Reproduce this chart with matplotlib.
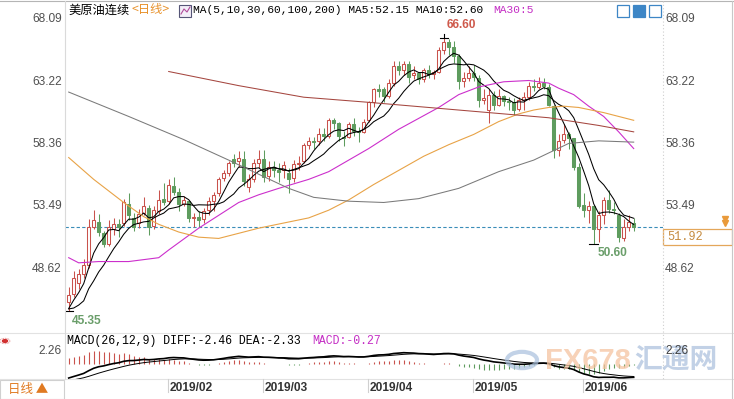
import numpy as np
import pandas as pd
import matplotlib
matplotlib.use("Agg")
import matplotlib.pyplot as plt
from matplotlib.patches import Rectangle, Circle
from matplotlib.lines import Line2D

plt.rcParams["font.family"] = ["Liberation Sans", "Noto Sans CJK SC", "DejaVu Sans"]

# ---- daily bars, 2019-01-03 .. 2019-06-17 (index 0..113) ----
opens = [46.05, 46.7, 47.5, 48.2, 48.9, 51.9, 52.3, 51.4, 50.6, 51.7,
         52.1, 52.2, 53.7, 52.6, 52.2, 53.0, 53.4, 52.0, 53.1, 54.1,
         53.9, 55.1, 54.6, 53.7, 53.9, 52.6, 52.7, 52.5, 53.2, 53.9,
         54.5, 55.7, 56.1, 57.2, 57.0, 57.2, 55.0, 55.6, 56.9, 57.2,
         55.9, 56.6, 56.3, 56.3, 56.1, 55.7, 56.8, 57.0, 58.3, 58.6,
         58.6, 59.1, 59.0, 60.2, 60.0, 58.9, 58.9, 59.9, 59.4, 59.3,
         60.2, 61.6, 62.6, 62.6, 62.1, 63.1, 64.4, 64.1, 64.6, 63.7,
         63.9, 63.4, 64.1, 63.8, 64.0, 65.7, 66.3, 65.9, 65.2, 63.3,
         63.5, 63.9, 63.5, 61.8, 61.0, 62.2, 61.4, 62.1, 61.7, 61.6,
         61.1, 61.8, 62.0, 62.9, 62.8, 63.1, 62.8, 61.3, 57.9, 58.7,
         59.1, 58.8, 56.6, 53.6, 53.2, 53.5, 51.7, 52.8, 54.0, 53.3,
         52.8, 51.0, 51.9, 52.2]
highs = [47.2, 48.5, 48.6, 49.4, 52.5, 53.2, 52.9, 51.6, 52.4, 52.6,
         52.5, 54.1, 54.5, 53.0, 53.3, 54.2, 53.6, 53.5, 54.8, 55.3,
         55.6, 55.8, 54.9, 54.3, 54.0, 53.0, 53.1, 53.4, 54.2, 54.6,
         55.8, 56.3, 57.0, 57.6, 57.8, 57.8, 56.0, 57.2, 57.9, 57.9,
         57.0, 57.0, 56.9, 57.0, 56.5, 57.1, 57.4, 58.4, 58.9, 58.9,
         59.6, 59.6, 60.4, 60.4, 60.1, 59.4, 60.1, 60.4, 59.7, 60.3,
         61.7, 62.7, 63.0, 62.8, 63.4, 64.8, 64.8, 64.8, 64.8, 64.4,
         64.0, 64.3, 64.5, 64.1, 65.9, 66.6, 66.5, 66.4, 65.4, 64.0,
         64.4, 64.5, 63.7, 62.6, 62.6, 62.5, 62.6, 62.2, 62.0, 61.9,
         62.0, 62.4, 63.2, 63.4, 63.6, 63.5, 63.0, 61.4, 59.1, 59.9,
         59.3, 58.8, 56.9, 54.5, 53.9, 53.6, 53.1, 54.2, 54.8, 53.8,
         53.0, 52.5, 52.8, 52.6]
lows = [45.35, 46.4, 47.1, 47.9, 48.7, 51.7, 51.2, 50.3, 50.4, 51.3,
        51.1, 52.0, 52.4, 51.6, 51.8, 52.8, 51.3, 51.7, 52.9, 53.6,
        53.7, 54.4, 53.1, 53.5, 52.3, 51.9, 51.9, 52.2, 52.8, 53.1,
        54.3, 55.5, 55.9, 56.6, 56.6, 55.1, 54.6, 55.4, 56.5, 55.4,
        55.5, 55.8, 55.4, 55.7, 54.5, 55.4, 56.3, 56.9, 58.0, 58.0,
        58.3, 58.6, 58.8, 59.5, 58.6, 58.2, 58.8, 59.0, 58.5, 59.2,
        60.1, 61.2, 62.0, 61.6, 61.9, 62.9, 63.7, 63.7, 63.1, 63.4,
        63.0, 63.2, 63.5, 63.4, 63.9, 65.4, 65.3, 64.7, 62.6, 62.8,
        63.3, 63.3, 61.2, 61.5, 60.0, 61.0, 61.3, 61.3, 61.0, 60.6,
        60.9, 61.0, 61.8, 62.5, 62.6, 62.6, 61.3, 57.3, 57.4, 58.4,
        58.0, 56.3, 53.4, 52.7, 52.2, 50.6, 50.7, 52.1, 53.0, 52.9,
        50.7, 50.8, 51.6, 51.6]
closes = [46.6, 47.9, 48.2, 48.9, 51.9, 52.4, 51.5, 50.6, 51.9, 52.1,
          51.9, 53.8, 52.8, 51.9, 52.9, 53.5, 51.9, 53.2, 54.0, 53.8,
          55.2, 54.6, 53.7, 54.0, 52.6, 52.7, 52.4, 53.1, 53.9, 54.4,
          55.6, 56.1, 56.9, 56.9, 57.3, 55.5, 55.6, 56.9, 57.2, 55.8,
          56.6, 56.3, 56.2, 56.7, 55.6, 56.8, 56.9, 58.3, 58.6, 58.5,
          59.1, 59.0, 60.2, 60.0, 59.0, 58.8, 59.9, 59.4, 59.3, 60.1,
          61.6, 62.6, 62.5, 62.1, 63.1, 64.4, 64.1, 64.6, 63.6, 63.9,
          63.4, 64.1, 63.8, 64.0, 65.7, 66.3, 65.9, 65.2, 63.3, 63.5,
          63.9, 63.6, 61.8, 61.9, 62.2, 61.4, 62.1, 61.7, 61.6, 61.0,
          61.8, 62.0, 62.9, 62.8, 63.1, 62.9, 61.4, 57.9, 58.6, 59.1,
          58.8, 56.6, 53.5, 53.2, 53.5, 51.7, 52.8, 54.0, 53.3, 53.2,
          51.1, 51.9, 52.3, 51.92]
# nine closes before the first visible bar (for MA5 / MA10)
prior_closes = [47.2, 45.9, 45.6, 42.5, 46.2, 44.6, 45.3, 45.4, 45.8]

# long moving averages: (bar index, value)
ma30_idx = [0, 2, 6, 12, 18, 20, 26, 30, 34, 38, 42, 48, 52, 56, 60, 66, 74,
            78, 82, 87, 92, 96, 98, 101, 104, 107, 110, 113]
ma30_val = [49.5, 49.1, 49.2, 49.2, 49.5, 50.1, 51.8, 52.8, 53.8, 54.4, 54.9,
            55.6, 56.2, 57.1, 58.0, 59.5, 61.2, 62.2, 62.8, 63.2, 63.3, 63.1,
            62.7, 62.2, 61.3, 60.5, 59.3, 58.0]
ma60_idx = [0, 5, 11, 15, 18, 22, 26, 30, 34, 38, 43, 48, 52, 56, 61, 66, 71,
            76, 81, 86, 90, 93, 96, 99, 102, 107, 113]
ma60_val = [57.3, 55.6, 53.8, 52.7, 52.1, 51.5, 51.1, 51.0, 51.4, 51.8, 52.2,
            52.6, 53.2, 54.0, 55.2, 56.3, 57.4, 58.3, 59.1, 60.1, 60.7, 61.0,
            61.2, 61.3, 61.2, 60.8, 60.2]
ma100_idx = [0, 12, 23, 32, 44, 49, 56, 63, 70, 78, 86, 93, 100, 106, 113]
ma100_val = [62.4, 60.5, 58.7, 57.1, 54.9, 54.2, 53.9, 53.8, 54.1, 54.9, 56.2, 57.1, 58.4, 58.6, 58.5]
ma200_idx = [20, 34, 47, 60, 72, 84, 96, 106, 113]
ma200_val = [64.0, 62.9, 62.0, 61.6, 61.2, 60.8, 60.4, 59.8, 59.3]

# MACD EMA states just before the first visible bar
ema12_seed, ema26_seed, dea_seed = 46.9, 49.7, -3.2

month_idx = [20, 39, 60, 81, 103]
month_labels = ["2019/02", "2019/03", "2019/04", "2019/05", "2019/06"]
price_ticks = [68.09, 63.22, 58.36, 53.49, 48.62]
last_price = 51.92

W, H = 734, 399
fx = lambda px: px / W
fy = lambda py: 1 - py / H

UP = "#c9524c"
DOWN = "#5e9c5e"

fig = plt.figure(figsize=(W / 100, H / 100), dpi=100)
fig.patch.set_facecolor("white")


def fline(xs, ys, **kw):
    fig.add_artist(Line2D([fx(x) for x in xs], [fy(y) for y in ys],
                          transform=fig.transFigure, **kw))


# ---- price panel ----
ax = fig.add_axes([fx(65), fy(333), (663 - 65) / W, (333 - 3) / H])
ax.set_xlim(-0.74, 118.86)
ax.set_ylim(68.09 - (333 - 19) / 12.84, 68.09 + 16 / 12.84)
ax.axis("off")

n = len(closes)
idx = np.arange(n)
for i in range(n):
    o, h, l, c = opens[i], highs[i], lows[i], closes[i]
    up = c >= o
    col = UP if up else DOWN
    ax.vlines(i, l, h, color=col, lw=0.75, zorder=2)
    ax.add_patch(Rectangle((i - 0.34, min(o, c)), 0.68, max(abs(c - o), 0.04),
                           facecolor="white" if up else col, edgecolor=col,
                           lw=0.75, zorder=3))

allc = pd.Series(prior_closes + closes)
ma5 = allc.rolling(5).mean().iloc[len(prior_closes):].values
ma10 = allc.rolling(10).mean().iloc[len(prior_closes):].values
ax.plot(idx, ma10, color="black", lw=0.75, zorder=4)
ax.plot(idx, ma5, color="black", lw=0.75, zorder=4)
ax.plot(ma30_idx, ma30_val, color="#cc2fcc", lw=0.8, zorder=4)
ax.plot(ma60_idx, ma60_val, color="#e8a347", lw=0.8, zorder=4)
ax.plot(ma100_idx, ma100_val, color="#7a7a7a", lw=0.75, zorder=4)
ax.plot(ma200_idx, ma200_val, color="#a5463f", lw=0.75, zorder=4)

ax.axhline(last_price, color="#3a8db8", lw=0.8, ls=(0, (3, 2)), zorder=1)

# extreme marks
imax = int(np.argmax(highs))
imin0 = 0
imin1 = 105
ax.plot([imax - 0.8, imax + 0.8], [highs[imax], highs[imax]], color="black", lw=0.8, zorder=5)
ax.plot([imax, imax], [highs[imax], highs[imax] + 0.35], color="black", lw=0.8, zorder=5)
ax.plot([imin0 - 0.8, imin0 + 0.8], [lows[imin0], lows[imin0]], color="black", lw=0.8, zorder=5)
ax.plot([imin1 - 0.9, imin1 + 0.9], [lows[imin1], lows[imin1]], color="black", lw=0.8, zorder=5)
ax.text(imax + 0.6, highs[imax] + 0.55, f"{highs[imax]:.2f}", color="#cf5a4c",
        fontsize=8.6, fontweight="bold", va="bottom", ha="left")
ax.text(imin0 + 0.6, lows[imin0] - 0.35, f"{lows[imin0]:.2f}", color="#6a9e6a",
        fontsize=8.6, fontweight="bold", va="top", ha="left")
ax.text(imin1 + 0.8, lows[imin1] - 0.25, f"{lows[imin1]:.2f}", color="#6a9e6a",
        fontsize=8.6, fontweight="bold", va="top", ha="left")

# ---- MACD panel ----
a12, a26, a9 = 2 / 13, 2 / 27, 2 / 10
e12, e26, dea = ema12_seed, ema26_seed, dea_seed
diff_l, dea_l = [], []
for c in closes:
    e12 += a12 * (c - e12)
    e26 += a26 * (c - e26)
    d = e12 - e26
    dea += a9 * (d - dea)
    diff_l.append(d)
    dea_l.append(dea)
diff_a = np.array(diff_l)
dea_a = np.array(dea_l)
macd_a = 2 * (diff_a - dea_a)

mx = fig.add_axes([fx(65), fy(379), (663 - 65) / W, (379 - 333) / H])
mx.set_xlim(-0.74, 118.86)
mx.set_ylim((363.5 - 379) * 0.18, (363.5 - 333) * 0.18)
mx.axis("off")
mx.vlines(idx, 0, macd_a, colors=[UP if v >= 0 else DOWN for v in macd_a], lw=0.8)
mx.plot(idx, dea_a, color="black", lw=0.7)
mx.plot(idx, diff_a, color="black", lw=1.2)

# ---- frame lines ----
fline([0, W], [1, 1], color="#b5b5b5", lw=0.8)
fline([0, W], [333, 333], color="#e2e2e2", lw=0.8)
fline([0, W], [379, 379], color="#e2e2e2", lw=0.8)
fline([65, 65], [1, 379], color="#dadada", lw=0.8)
fline([663, 663], [1, 379], color="#cfcfcf", lw=0.8, ls=(0, (1, 2)))
fline([732, 732], [1, 399], color="#c8c8c8", lw=0.8)
for m, lab in zip(month_idx, month_labels):
    px = 68.7 + 5.0 * m - 0.7
    fline([px, px], [379, 392], color="#d0d0d0", lw=0.8)
    fig.text(fx(px + 2), fy(388), lab, fontsize=8.6,
             fontweight="bold", color="#333333", ha="left", va="center")

# price labels both sides
for p in price_ticks:
    py = 19 + (68.09 - p) * 12.84
    fig.text(fx(62), fy(py), f"{p:.2f}", fontsize=8.6, color="#505050", ha="right", va="center")
    fig.text(fx(665), fy(py), f"{p:.2f}", fontsize=8.6, color="#505050", ha="left", va="center")
fig.text(fx(62), fy(351), "2.26", fontsize=8.6, color="#505050", ha="right", va="center")

# watermark
fig.add_artist(Circle((fx(522), fy(360)), 15 / W, transform=fig.transFigure,
                      facecolor="none", edgecolor="#a9c0dd", lw=3, alpha=0.7))
fig.text(fx(545), fy(361), "FX678", fontsize=21, fontweight="bold", color="#f5c3a0",
         alpha=0.75, ha="left", va="center")
fig.text(fx(634), fy(361), "汇通网", family=["Noto Sans CJK SC"], fontsize=20,
         fontweight="bold", color="#b3c6e0", alpha=0.8, ha="left", va="center")
fig.text(fx(665), fy(351), "2.26", fontsize=8.6, color="#404040", ha="left", va="center")

# last price box
fig.add_artist(Rectangle((fx(663), fy(245)), 69 / W, 16 / H, transform=fig.transFigure,
                         facecolor="white", edgecolor="#e4a75a", lw=0.9))
fig.text(fx(667), fy(237), f"{last_price:.2f}", family=["Liberation Mono"], fontsize=8.6,
         color="#c58a3e", ha="left", va="center")
fline([725, 725], [219, 223], color="none", marker="v", markersize=4.5,
      markerfacecolor="#e99a3a", markeredgecolor="#e99a3a", ls="none")

# header texts
fig.text(fx(68), fy(10), "美原油连续", family=["Noto Sans CJK SC"], fontsize=8.8,
         color="black", ha="left", va="center")
fig.text(fx(131), fy(10), "<日线>", family=["Noto Sans CJK SC"], fontsize=8.8,
         color="#e8922c", ha="left", va="center")
fig.add_artist(Rectangle((fx(179), fy(17)), 12 / W, 12 / H, transform=fig.transFigure,
                         facecolor="#f3eef8", edgecolor="#555577", lw=0.8))
fline([181, 184, 187, 190], [14, 9, 12, 7], color="#b04a9a", lw=0.8)
fig.text(fx(193), fy(10), "MA(5,10,30,60,100,200) MA5:52.15 MA10:52.60",
         family=["Liberation Mono"], fontsize=8.1, color="black", ha="left", va="center")
fig.text(fx(493), fy(10), "MA30:5", family=["Liberation Mono"], fontsize=8.1,
         color="#c42ec4", ha="left", va="center")
fig.text(fx(67), fy(341), "MACD(26,12,9) DIFF:-2.46 DEA:-2.33",
         family=["Liberation Mono"], fontsize=8.3, color="black", ha="left", va="center")
fig.text(fx(312), fy(341), "MACD:-0.27", family=["Liberation Mono"], fontsize=8.3,
         color="#c42ec4", ha="left", va="center")

# tool buttons top right
for k, x0 in enumerate([617, 633, 649]):
    fig.add_artist(Rectangle((fx(x0), fy(17)), 12 / W, 12 / H, transform=fig.transFigure,
                             facecolor="#3d86c6" if k == 1 else "white",
                             edgecolor="#3d86c6", lw=0.9))

# left icon and period button
fig.add_artist(Circle((fx(5), fy(341)), 2.5 / W, transform=fig.transFigure,
                      facecolor="#d03030", edgecolor="#d03030"))
fig.add_artist(Circle((fx(5), fy(341)), 5 / W, transform=fig.transFigure,
                      facecolor="none", edgecolor="#e07070", lw=0.6, ls=(0, (1, 1))))
fig.add_artist(Rectangle((fx(0), fy(399)), 64 / W, 19 / H, transform=fig.transFigure,
                         facecolor="white", edgecolor="#d0d0d0", lw=0.8))
fig.text(fx(8), fy(389), "日线 ▲", family=["Noto Sans CJK SC", "DejaVu Sans"], fontsize=9,
         color="#e07a22", ha="left", va="center")

fig.savefig("out.png", dpi=100)
